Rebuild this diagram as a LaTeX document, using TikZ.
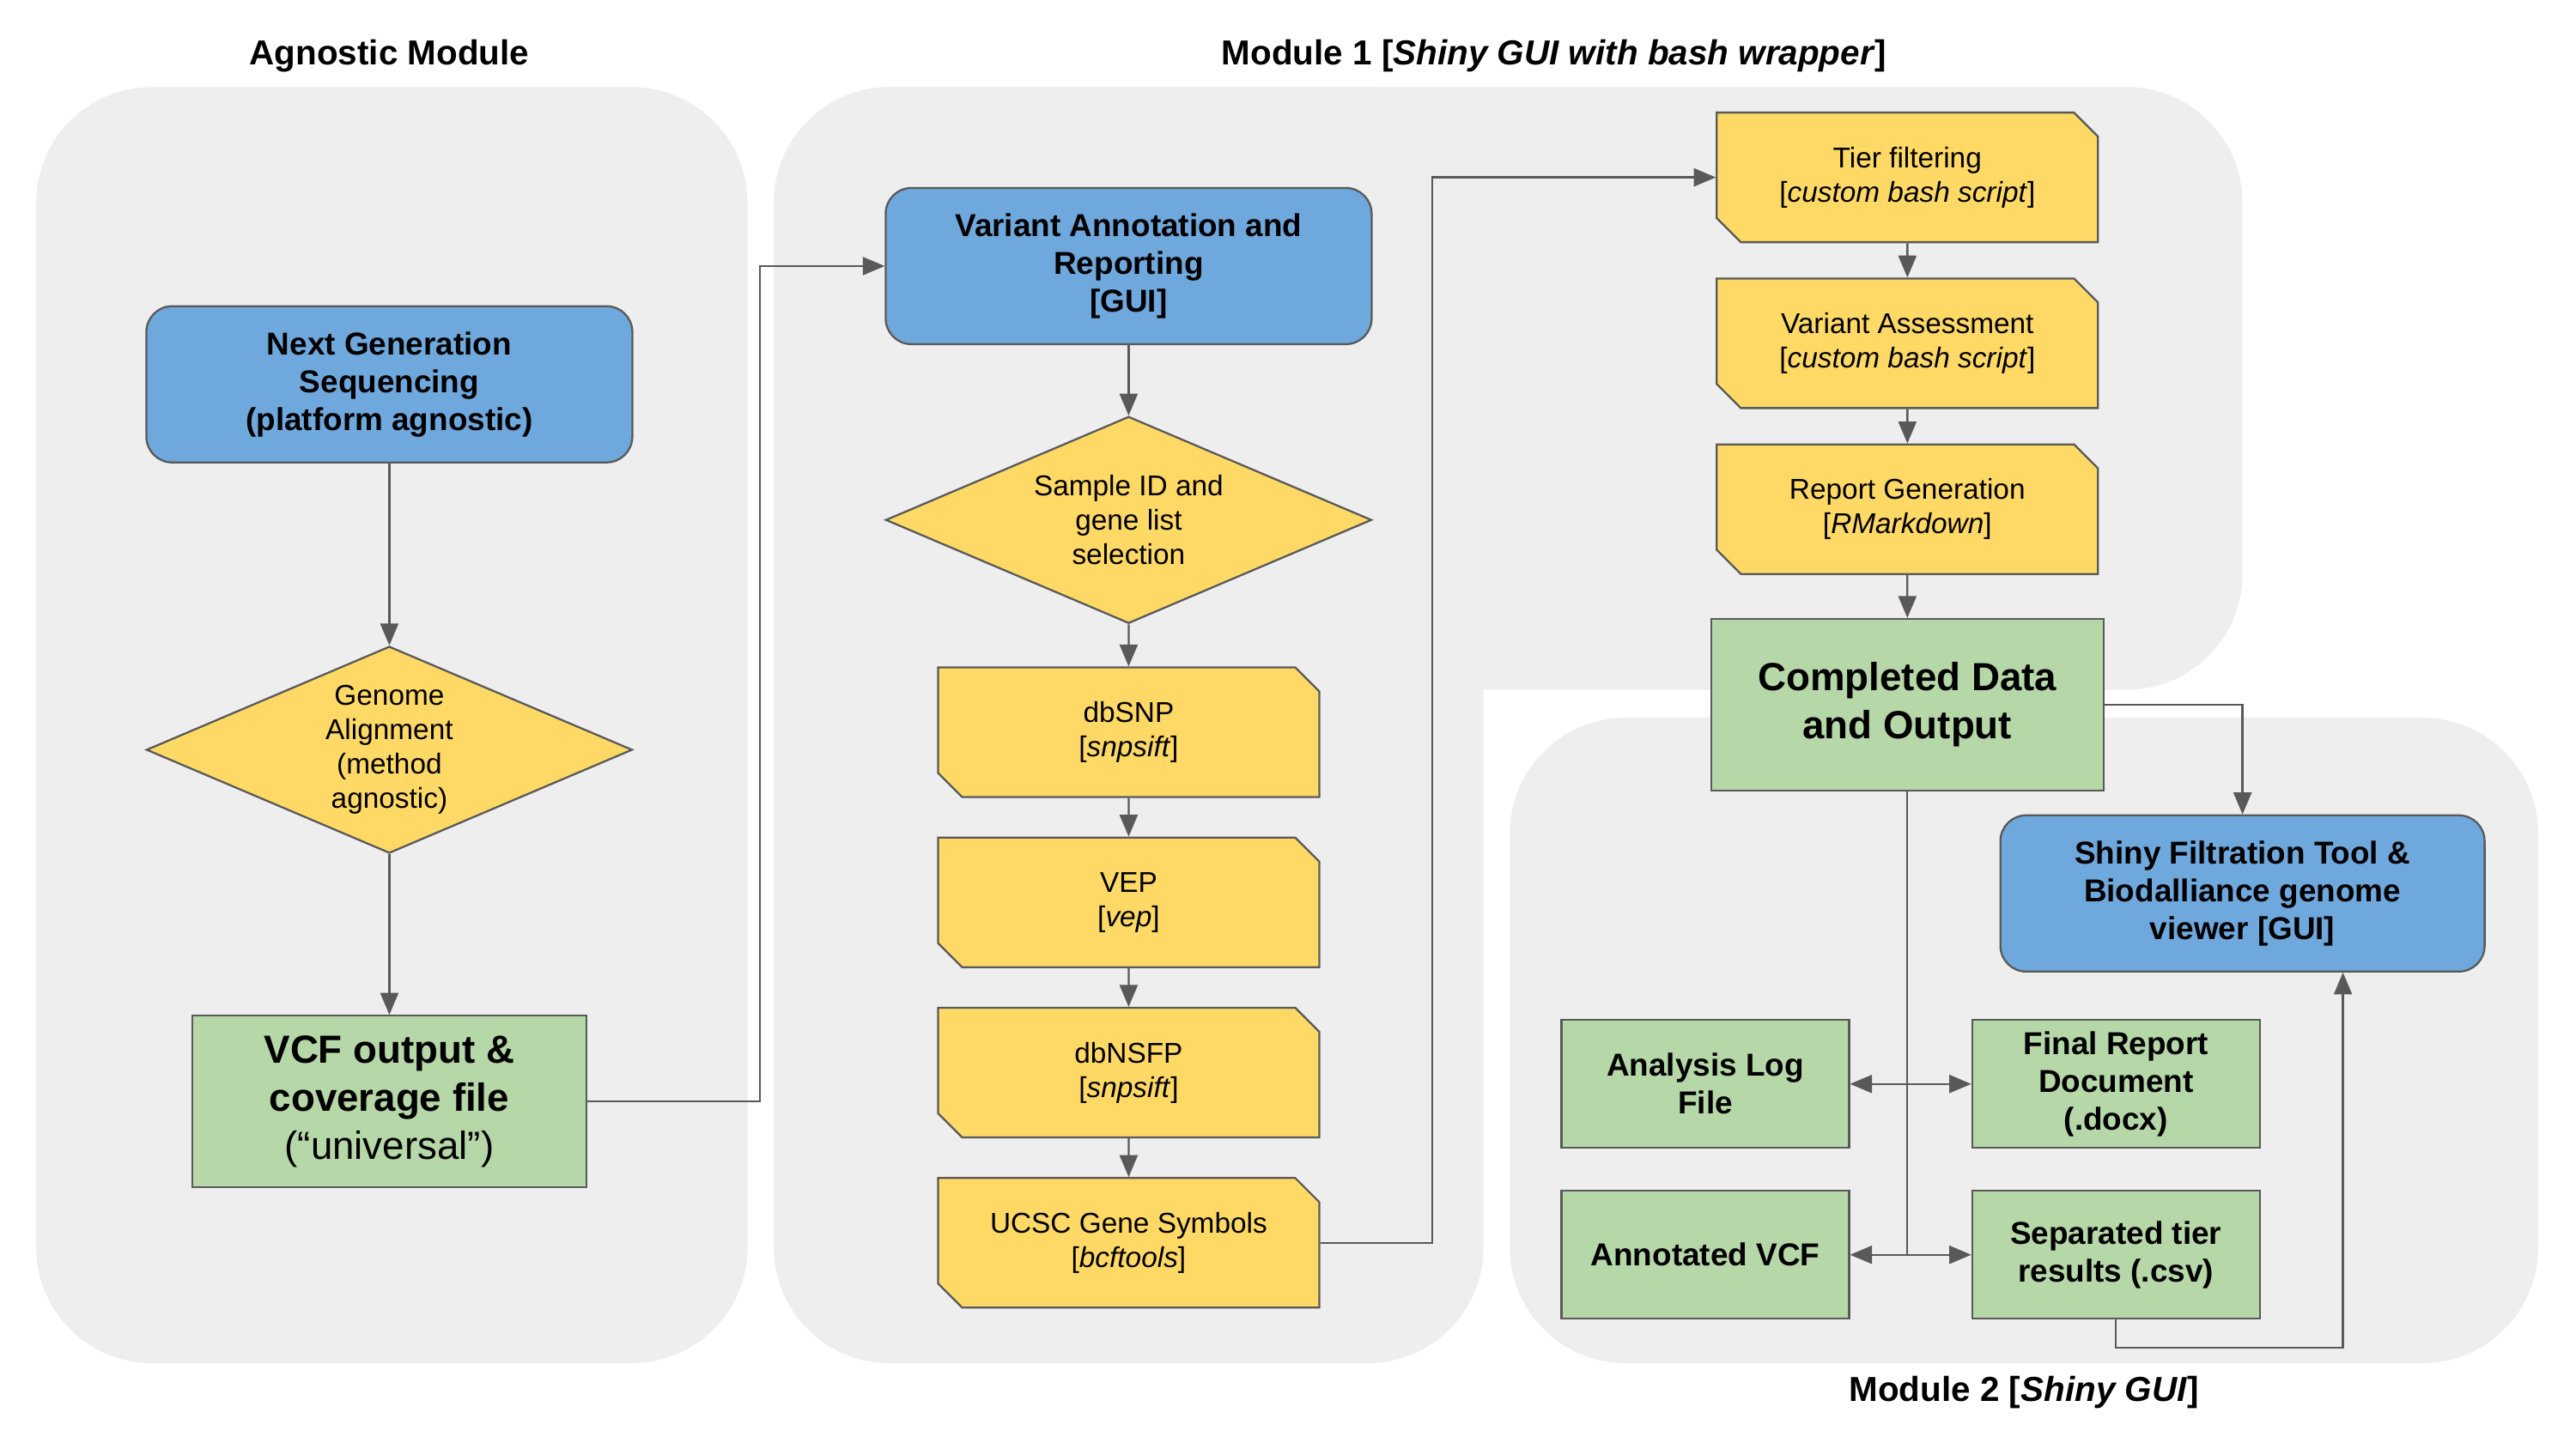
\documentclass[tikz,border=0pt]{standalone}
\usepackage{fontspec}
\setmainfont{Liberation Sans}
\usepackage{tikz}
\usetikzlibrary{positioning,shapes.geometric,shapes.misc}
\usetikzlibrary{arrows}

\definecolor{guiblue}{HTML}{6FA8DC}
\definecolor{toolyellow}{HTML}{FFD966}
\definecolor{outgreen}{HTML}{B6D7A8}
\definecolor{modgray}{HTML}{EEEEEE}
\definecolor{edgegray}{HTML}{595959}

\begin{document}
\begin{tikzpicture}[x=0.01913cm, y=-0.01913cm, >=triangle 45,
  every node/.style = {draw=edgegray, line width=0.65pt, align=center, inner sep=2pt},
  gui/.style = {rectangle, rounded corners=0.3cm, fill=guiblue,
    minimum width=5.66cm, minimum height=1.82cm,
    font=\fontsize{10.5}{12.5}\selectfont\bfseries},
  choice/.style = {diamond, fill=toolyellow, aspect=2.35, inner sep=0pt,
    minimum width=5.66cm, minimum height=2.41cm,
    font=\fontsize{9.5}{11.4}\selectfont},
  tool/.style = {chamfered rectangle, chamfered rectangle corners={north east,south west},
    chamfered rectangle xsep=0.14cm, chamfered rectangle ysep=0.14cm, fill=toolyellow,
    minimum width=4.44cm, minimum height=1.51cm,
    font=\fontsize{9.5}{11.4}\selectfont},
  result/.style = {rectangle, fill=outgreen, minimum width=3.35cm, minimum height=1.49cm,
    font=\fontsize{10.5}{12.5}\selectfont\bfseries},
  big result/.style = {result, minimum width=4.59cm, minimum height=2cm,
    font=\fontsize{13}{16}\selectfont\bfseries},
  heading/.style = {draw=none, font=\fontsize{11.5}{14}\selectfont\bfseries},
  link/.style = {draw=edgegray, line width=0.65pt}]
  \useasboundingbox (0,0) rectangle (1568,882);

  % module backgrounds
  \fill[modgray, rounded corners=1.35cm] (22,53) rectangle (455,830);
  \fill[modgray, rounded corners=1.35cm] (471,53) rectangle (1365,420);
  \fill[modgray, rounded corners=1.35cm] (471,53) rectangle (903,830);
  \fill[modgray, rounded corners=1.35cm] (919,437) rectangle (1545,830);

  \node[heading] (AgTitle) at (237,34) {Agnostic Module};
  \node[heading] (M1Title) at (946,34) {Module 1 [\textit{Shiny GUI with bash wrapper}]};
  \node[heading] (M2Title) at (1232,848) {Module 2 [\textit{Shiny GUI}]};

  % agnostic module
  \node[gui] (NGS) at (237,234) {Next Generation\\Sequencing\\(platform agnostic)};
  \node[choice, below = 2.12cm of NGS] (GA) {Genome\\Alignment\\(method\\agnostic)};
  \node[big result, below = 1.87cm of GA] (VCF) {VCF output \&\\coverage file\\{\mdseries(“universal”)}};

  % module 1
  \node[gui] (VA) at (687,162) {Variant Annotation and\\Reporting\\{}[GUI]};
  \node[choice, below = 0.82cm of VA] (SID) {Sample ID and\\gene list\\selection};
  \node[tool, below = 0.49cm of SID] (SNP) {dbSNP\\{}[\textit{snpsift}]};
  \node[tool, below = 0.45cm of SNP] (VEP) {VEP\\{}[\textit{vep}]};
  \node[tool, below = 0.45cm of VEP] (NSFP) {dbNSFP\\{}[\textit{snpsift}]};
  \node[tool, below = 0.45cm of NSFP] (UCSC) {UCSC Gene Symbols\\{}[\textit{bcftools}]};

  \node[tool] (Tier) at (1161,108) {Tier filtering\\{}[\textit{custom bash script}]};
  \node[tool, below = 0.40cm of Tier] (Assess) {Variant Assessment\\{}[\textit{custom bash script}]};
  \node[tool, below = 0.40cm of Assess] (Report) {Report Generation\\{}[\textit{RMarkdown}]};
  \node[big result, minimum width=4.57cm, below = 0.50cm of Report] (Done) {Completed Data\\and Output};

  % module 2
  \node[gui, minimum width=5.64cm] (Shiny) at (1365,544) {Shiny Filtration Tool \&\\Biodalliance genome\\viewer [GUI]};
  \node[result] (Log) at (1038,660) {Analysis Log\\File};
  \node[result] (Final) at (1288,660) {Final Report\\Document\\(.docx)};
  \node[result] (AVCF) at (1038,764) {Annotated VCF};
  \node[result] (Tiers) at (1288,764) {Separated tier\\results (.csv)};

  \draw[link, ->] (NGS) -- (GA);
  \draw[link, ->] (GA) -- (VCF);
  \draw[link, ->] (VCF.east) -- ++(105,0) |- (VA.west);
  \draw[link, ->] (VA) -- (SID);
  \draw[link, ->] (SID) -- (SNP);
  \draw[link, ->] (SNP) -- (VEP);
  \draw[link, ->] (VEP) -- (NSFP);
  \draw[link, ->] (NSFP) -- (UCSC);
  \draw[link, ->] (UCSC.east) -- ++(68,0) |- (Tier.west);
  \draw[link, ->] (Tier) -- (Assess);
  \draw[link, ->] (Assess) -- (Report);
  \draw[link, ->] (Report) -- (Done);
  \draw[link, ->] (Done.east) -| (Shiny.north);
  \draw[link] (Done.south) -- (Done.south |- AVCF.east);
  \draw[link, <->] (Log) -- (Final);
  \draw[link, <->] (AVCF) -- (Tiers);
  \draw[link, ->] (Tiers.south) -- ++(0,17) -| ([xshift=1.17cm]Shiny.south);

\end{tikzpicture}
\end{document}
